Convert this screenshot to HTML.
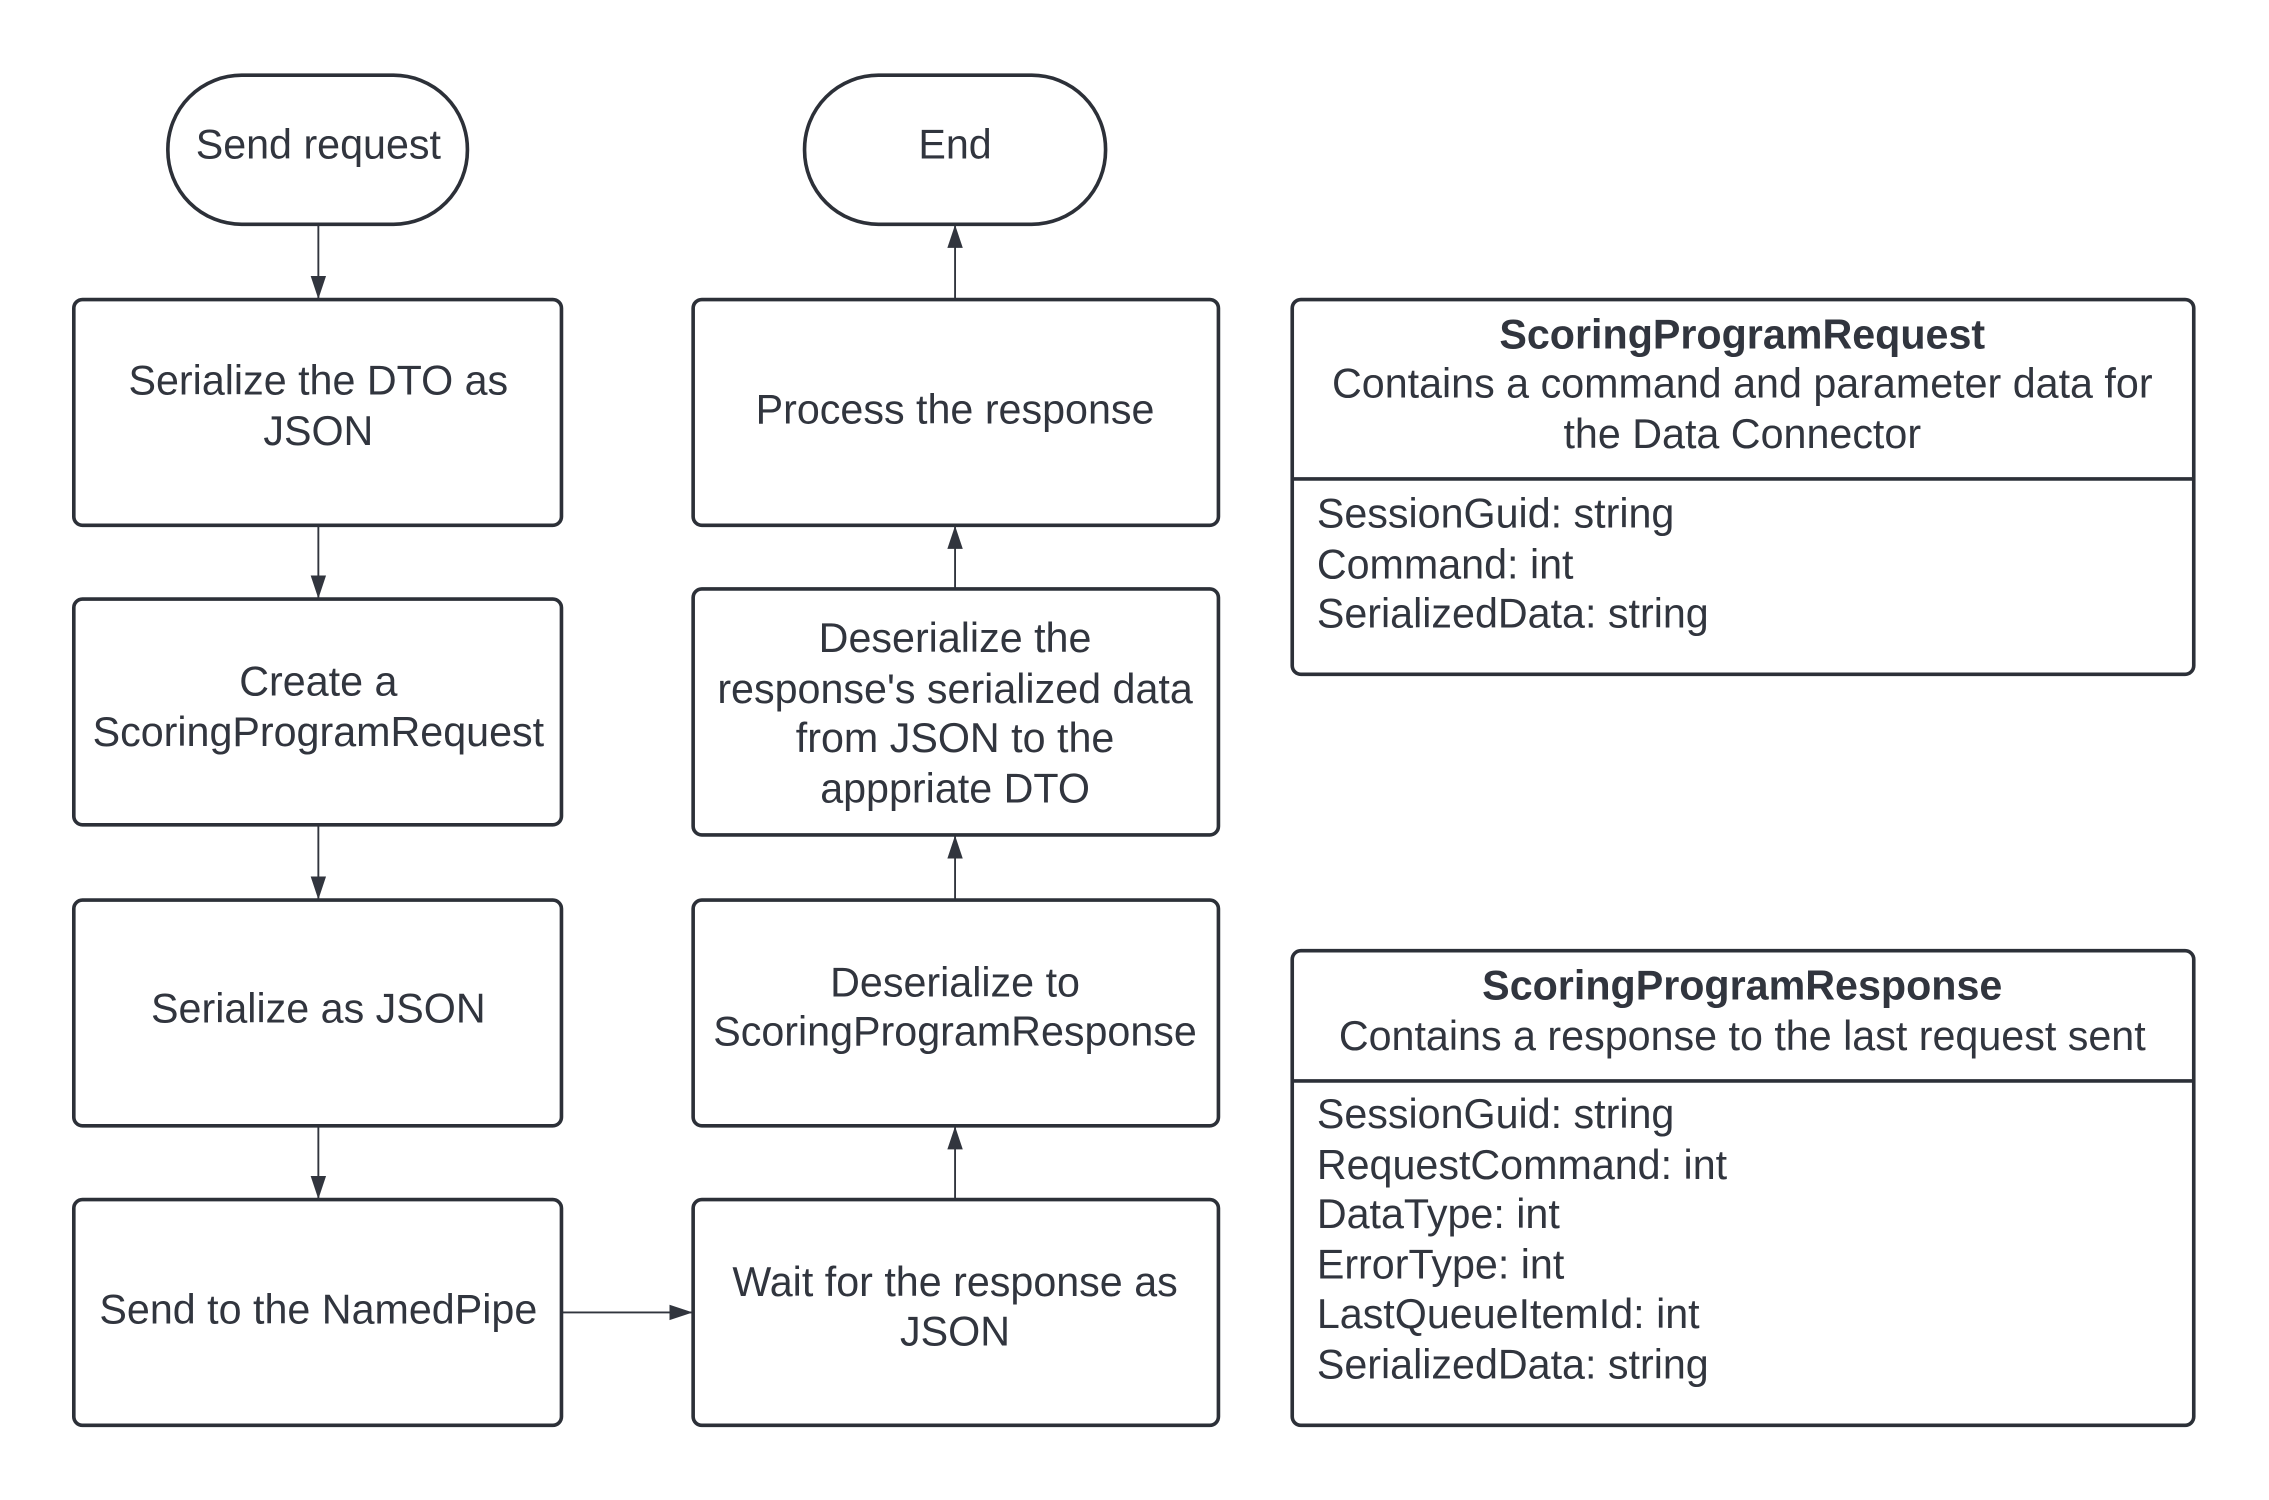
<!DOCTYPE html>
<html><head><meta charset="utf-8"><style>html,body{margin:0;padding:0;background:#fff}svg{display:block}</style></head>
<body>
<svg width="2269" height="1500" viewBox="0 0 1568 1036.6" preserveAspectRatio="none" xmlns="http://www.w3.org/2000/svg" font-family="Liberation Sans, sans-serif" font-size="28.5" fill="#31353e">
<defs>
<marker id="b" markerWidth="16" markerHeight="24" refX="23" refY="8" orient="auto" markerUnits="userSpaceOnUse" viewBox="0 0 24 16"><path d="M0,0 L24,8 L0,16 z" fill="#31353e"/></marker></defs>
<g fill="none" stroke="#2c3038" stroke-width="2.5">
<rect x="116" y="52" width="207" height="103" rx="51"/>
<rect x="556" y="52" width="208" height="103" rx="51"/>
<rect x="51" y="207" width="337" height="156" rx="6"/>
<rect x="51" y="414" width="337" height="156" rx="6"/>
<rect x="51" y="622" width="337" height="156" rx="6"/>
<rect x="51" y="829" width="337" height="156" rx="6"/>
<rect x="479" y="207" width="363" height="156" rx="6"/>
<rect x="479" y="407" width="363" height="170" rx="6"/>
<rect x="479" y="622" width="363" height="156" rx="6"/>
<rect x="479" y="829" width="363" height="156" rx="6"/>
<rect x="893" y="207" width="623" height="259" rx="6"/>
<line x1="893" y1="331" x2="1516" y2="331"/>
<rect x="893" y="657" width="623" height="328" rx="6"/>
<line x1="893" y1="747" x2="1516" y2="747"/>
</g>
<g stroke="#31353e" stroke-width="1.3" fill="none" marker-end="url(#b)">
<line x1="220" y1="156" x2="220" y2="206"/>
<line x1="220" y1="364" x2="220" y2="413"/>
<line x1="220" y1="571" x2="220" y2="621"/>
<line x1="220" y1="779" x2="220" y2="828"/>
<line x1="389" y1="907" x2="478" y2="907"/>
<line x1="660" y1="828" x2="660" y2="779"/>
<line x1="660" y1="621" x2="660" y2="578"/>
<line x1="660" y1="406" x2="660" y2="364"/>
<line x1="660" y1="206" x2="660" y2="156"/>
</g>
<g text-anchor="middle" dominant-baseline="central">
<text x="220" y="100">Send request</text>
<text x="660" y="100">End</text>
<text x="220" y="263">Serialize the DTO as</text><text x="220" y="298">JSON</text>
<text x="220" y="471">Create a</text><text x="220" y="506">ScoringProgramRequest</text>
<text x="220" y="697">Serialize as JSON</text>
<text x="220" y="905">Send to the NamedPipe</text>
<text x="660" y="283">Process the response</text>
<text x="660" y="441">Deserialize the</text><text x="660" y="476">response's serialized data</text><text x="660" y="510">from JSON to the</text><text x="660" y="545">apppriate DTO</text>
<text x="660" y="679">Deserialize to</text><text x="660" y="713">ScoringProgramResponse</text>
<text x="660" y="886">Wait for the response as</text><text x="660" y="920">JSON</text>
<text x="1204" y="231" font-weight="bold">ScoringProgramRequest</text>
<text x="1204" y="265">Contains a command and parameter data for</text>
<text x="1204" y="300">the Data Connector</text>
<text x="1204" y="681" font-weight="bold">ScoringProgramResponse</text>
<text x="1204" y="716">Contains a response to the last request sent</text>
</g>
<g dominant-baseline="central">
<text x="910" y="355">SessionGuid: string</text>
<text x="910" y="390">Command: int</text>
<text x="910" y="424">SerializedData: string</text>
<text x="910" y="770">SessionGuid: string</text>
<text x="910" y="805">RequestCommand: int</text>
<text x="910" y="839">DataType: int</text>
<text x="910" y="874">ErrorType: int</text>
<text x="910" y="908">LastQueueItemId: int</text>
<text x="910" y="943">SerializedData: string</text>
</g>
</svg>
</body></html>
